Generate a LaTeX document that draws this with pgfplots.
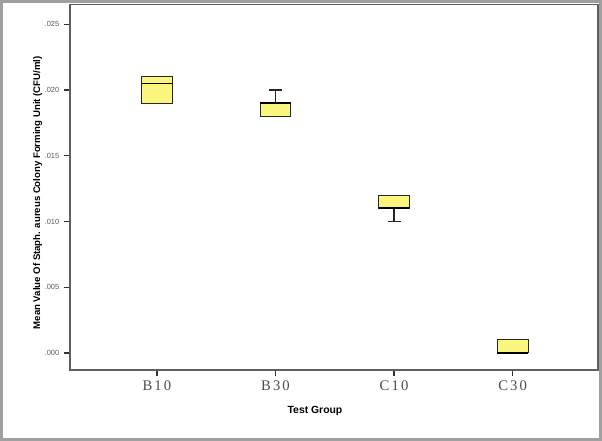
\documentclass[border=0pt]{standalone}
\usepackage{fontspec}
\setmainfont{Liberation Serif}
\setsansfont{Liberation Sans}
\usepackage{pgfplots}
\pgfplotsset{compat=1.18}
\usepgfplotslibrary{statistics}
\definecolor{boxyellow}{RGB}{250,246,125}
\definecolor{axgray}{RGB}{95,95,95}
\pgfplotsset{
  myboxes/.style={
    boxplot/draw direction=y, boxplot/box extend=0.26, boxplot/whisker extend=0.11,
    boxplot/every median/.style={line width=1.3pt, black},
    boxplot/every box/.style={draw=black!85, line width=0.7pt, fill=boxyellow},
    boxplot/every whisker/.style={black!85, line width=0.9pt},
  }
}
\begin{document}
\begin{tikzpicture}
\path[use as bounding box] (0pt,0pt) rectangle (451.5pt,330.75pt);
\begin{axis}[
  at={(52.5pt,53.25pt)}, anchor=south west,
  scale only axis, width=396pt, height=274pt,
  xmin=-0.733, xmax=3.72,
  ymin=-0.0013, ymax=0.0265,
  scaled y ticks=false,
  axis line style={axgray, line width=0.8pt},
  tick style={black!80, line width=1pt},
  tick align=outside,
  xtick pos=bottom, ytick pos=left,
  major tick length=4.5pt,
  xtick={0,1,2,3},
  xticklabels={B\hspace{1.6pt}1\hspace{1.6pt}0, B\hspace{1.6pt}3\hspace{1.6pt}0, C\hspace{1.6pt}1\hspace{1.6pt}0, C\hspace{1.6pt}3\hspace{1.6pt}0},
  xticklabel style={font=\fontsize{11}{12}\selectfont, text=black!70},
  ytick={0,0.005,0.01,0.015,0.02,0.025},
  yticklabels={.000,.005,.010,.015,.020,.025},
  yticklabel style={font=\sffamily\fontsize{5.6}{6}\selectfont, text=black!65},
  xlabel={Test Group},
  xlabel style={font=\sffamily\bfseries\fontsize{7.8}{8}\selectfont, at={(axis description cs:0.464,-0.113)}, anchor=center},
  ylabel={Mean Value Of Staph. aureus Colony Forming Unit (CFU/ml)},
  ylabel style={font=\sffamily\bfseries\fontsize{7.2}{8}\selectfont, at={(axis description cs:-0.061,0.485)}, anchor=center, rotate=0},
]
\addplot[black, mark=none, myboxes, boxplot prepared={draw position=0,
  lower whisker=0.019, lower quartile=0.019, median=0.0205,
  upper quartile=0.021, upper whisker=0.021}] coordinates {};
\addplot[black, mark=none, myboxes, boxplot prepared={draw position=1,
  lower whisker=0.018, lower quartile=0.018, median=0.019,
  upper quartile=0.019, upper whisker=0.020}] coordinates {};
\addplot[black, mark=none, myboxes, boxplot prepared={draw position=2,
  lower whisker=0.010, lower quartile=0.011, median=0.011,
  upper quartile=0.012, upper whisker=0.012}] coordinates {};
\addplot[black, mark=none, myboxes, boxplot prepared={draw position=3,
  lower whisker=0.000, lower quartile=0.000, median=0.000,
  upper quartile=0.001, upper whisker=0.001}] coordinates {};
\end{axis}
\draw[gray!75, line width=2pt] (1.2pt,1.2pt) rectangle (450.3pt,329.55pt);
\end{tikzpicture}
\end{document}
